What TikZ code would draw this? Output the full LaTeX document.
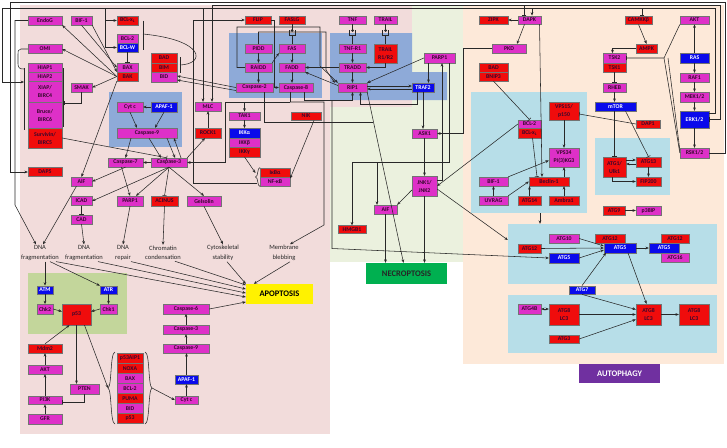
\documentclass[tikz,border=0pt]{standalone}
\usepackage{fontspec}
\setmainfont{Carlito}
\usetikzlibrary{arrows.meta}
\definecolor{bgpink}{RGB}{242,220,219}
\definecolor{bggreen}{RGB}{235,241,222}
\definecolor{bgpeach}{RGB}{253,233,217}
\definecolor{steel}{RGB}{142,170,216}
\definecolor{lblue}{RGB}{183,222,232}
\definecolor{dnagreen}{RGB}{195,214,155}
\definecolor{mag}{RGB}{222,48,200}
\definecolor{rdc}{RGB}{240,12,12}
\definecolor{blc}{RGB}{10,10,235}
\definecolor{txt}{RGB}{55,8,45}
\definecolor{lin}{RGB}{40,40,40}
\definecolor{necg}{RGB}{0,176,80}
\definecolor{autp}{RGB}{112,48,160}
\tikzset{
  nd/.style={draw=black!55, line width=0.3pt, inner sep=0pt, font=\fontsize{5.8}{8}\selectfont\bfseries, text=txt, align=center},
  wh/.style 2 args={minimum width=#1pt, minimum height=#2pt},
  mgn/.style={nd, fill=mag},
  rdn/.style={nd, fill=rdc},
  bln/.style={nd, fill=blc, text=white},
  ar/.style={draw=lin, line width=0.55pt, -{Stealth[length=3.4pt,width=2.8pt]}},
  arr/.style={draw=lin, line width=0.55pt, {Stealth[length=3.4pt,width=2.8pt]}-{Stealth[length=3.4pt,width=2.8pt]}},
  tb/.style={draw=lin, line width=0.55pt, -{Bar[width=4.5pt]}},
  ln/.style={draw=lin, line width=0.55pt},
  lbl/.style={font=\fontsize{6.5}{9.5}\selectfont, text=black!85, align=center, inner sep=1pt},
  bg/.style={inner sep=0pt, draw=none},
  proc/.style={inner sep=0pt, font=\fontsize{8.5}{8.5}\selectfont\bfseries},
}
\begin{document}
\begin{tikzpicture}[x=1pt,y=-1pt]
\useasboundingbox (0,0) rectangle (727,447);
\fill[white] (0,0) rectangle (727,447);
% ---------- regions
\fill[bggreen] (330,5) rectangle (463,262);
\fill[bgpink] (20,5) rectangle (330,434);
\fill[bgpink] (330,5) rectangle (412,107);
\fill[bgpeach] (463,5) rectangle (724,364);
\fill[steel] (109,92) rectangle (182,147);
\fill[steel] (229,33) rectangle (322,98);
\fill[steel] (330,33) -- (412,33) -- (412,72) -- (447,72) -- (447,100) -- (330,100) -- cycle;
\fill[dnagreen] (28,273) rectangle (127,334);
\node[bg, fill=lblue, wh={116}{121}] (boxA) at (529,152.5) {};
\fill[lblue] (595,138) rectangle (670,195);
\node[bg, fill=lblue, wh={209}{60}] (boxC) at (612.5,254) {};
\fill[lblue] (508,295) rectangle (717,353);
% ---------- process labels
\node[proc, fill=yellow, wh={67}{20}] (apop) at (279.5,294) {APOPTOSIS};
\node[proc, fill=necg, text=black!85, wh={81}{21}] (necro) at (406.5,273.5) {NECROPTOSIS};
\node[proc, fill=autp, text=white, wh={81}{19}] (autoph) at (619.5,373.5) {AUTOPHAGY};
% ---------- apoptosis nodes
\node[mgn, wh={34}{9}] (endog) at (45,20.5) {EndoG};
\node[mgn, wh={21}{9}] (bif1a) at (81.5,20.5) {BIF-1};
\node[rdn, wh={21}{9}] (bclxl) at (127.5,20.5) {BCL-x\textsubscript{L}};
\node[mgn, wh={21}{9}] (bcl2a) at (127.5,38.5) {BCL-2};
\node[bln, wh={21}{9}] (bclw) at (127.5,47.5) {BCL-W};
\node[mgn, wh={21}{9}] (baxa) at (127.5,67.5) {BAX};
\node[rdn, wh={21}{9}] (bak) at (127.5,76.5) {BAK};
\node[rdn, wh={26}{9.5}] (bad) at (164,58) {BAD};
\node[rdn, wh={26}{9.5}] (bim) at (164,67.5) {BIM};
\node[mgn, wh={26}{9.5}] (bid) at (164,77) {BID};
\node[mgn, wh={34}{9}] (omi) at (45,49) {OMI};
\node[mgn, wh={34}{9}] (hiap1) at (45,67.5) {HIAP1};
\node[mgn, wh={34}{9}] (hiap2) at (45,76.5) {HIAP2};
\node[mgn, wh={34}{21}] (xiap) at (45,91.5) {XIAP/\\BIRC4};
\node[mgn, wh={34}{26}] (bruce) at (45,115) {Bruce/\\BIRC6};
\node[rdn, wh={34}{20}] (surv) at (45,138) {Survivin/\\BIRC5};
\node[mgn, wh={21}{9}] (smak) at (81.5,87.5) {SMAK};
\node[mgn, wh={26}{10}] (cytc) at (130,107) {Cyt c};
\node[bln, wh={26}{10}] (apaf) at (164,107) {APAF-1};
\node[mgn, wh={60}{10}] (casp9) at (147,133) {Caspase-9};
\node[mgn, wh={35}{9}] (casp7) at (125.5,162.5) {Caspase-7};
\node[mgn, wh={36}{9}] (casp3) at (169,162.5) {Caspase-3};
\node[rdn, wh={34}{9}] (dap5) at (45,172) {DAP5};
\node[mgn, wh={21}{9}] (aifa) at (81.5,181.5) {AIF};
\node[mgn, wh={21}{9}] (icad) at (81.5,201) {ICAD};
\node[mgn, wh={21}{9}] (cad) at (81.5,219.5) {CAD};
\node[mgn, wh={26}{10}] (parp1a) at (130,201) {PARP1};
\node[rdn, wh={27}{10}] (acinus) at (164.5,201) {ACINUS};
\node[mgn, wh={34}{10}] (gelsolin) at (204,201) {Gelsolin};
\node[mgn, wh={26}{9}] (mlc) at (208,106.5) {MLC};
\node[rdn, wh={26}{10}] (rock1) at (208,133) {ROCK1};
\node[mgn, wh={31}{8.5}] (tak1) at (244.5,116) {TAK1};
\node[bln, wh={31}{9.5}] (ikka) at (244.5,133) {IKKα};
\node[mgn, wh={31}{9.5}] (ikkb) at (244.5,142.5) {IKKβ};
\node[rdn, wh={31}{9.5}] (ikkg) at (244.5,152) {IKKγ};
\node[rdn, wh={30}{8.5}] (nik) at (306,116) {NIK};
\node[rdn, wh={30}{9}] (ikba) at (275,172.5) {IκBα};
\node[mgn, wh={30}{9}] (nfkb) at (275,181.5) {NF-κB};
\node[rdn, wh={26}{8.5}] (flip) at (258,20) {FLIP};
\node[rdn, wh={26}{8.5}] (faslg) at (292,20) {FASLG};
\node[mgn, wh={27}{9}] (pidd) at (258.5,48.5) {PIDD};
\node[mgn, wh={26}{9}] (fas) at (292,48.5) {FAS};
\node[mgn, wh={27}{9}] (raidd) at (258.5,67.5) {RAIDD};
\node[mgn, wh={26}{9}] (fadd) at (292,67.5) {FADD};
\node[mgn, wh={37}{9}] (casp2) at (254.5,87.5) {Caspase-2};
\node[mgn, wh={34}{9}] (casp8) at (296,87.5) {Caspase-8};
\node[mgn, wh={27}{8.5}] (tnf) at (352.5,20) {TNF};
\node[mgn, wh={23}{8.5}] (trail) at (385.5,20) {TRAIL};
\node[mgn, wh={27}{9}] (tnfr1) at (352.5,48.5) {TNF-R1};
\node[rdn, wh={23}{19}] (trailr) at (385.5,53.5) {TRAIL\\R1/R2};
\node[mgn, wh={27}{9}] (tradd) at (352.5,67.5) {TRADD};
\node[mgn, wh={29}{9}] (rip1) at (352.5,87.5) {RIP1};
\node[bln, wh={22}{9}] (traf2) at (423,87.5) {TRAF2};
% lower apoptosis
\node[lbl] (dnaf1) at (40,253) {DNA\\fragmentation};
\node[lbl] (dnaf2) at (84,253) {DNA\\fragmentation};
\node[lbl] (dnar) at (123,253) {DNA\\repair};
\node[lbl] (chrom) at (163,253) {Chromatin\\condensation};
\node[lbl] (cytos) at (223,253) {Cytoskeletal\\stability};
\node[lbl] (membr) at (284,253) {Membrane\\blebbing};
\node[bln, wh={16}{8.5}] (atm) at (45,290) {ATM};
\node[bln, wh={17}{8.5}] (atr) at (108.5,290) {ATR};
\node[mgn, wh={16}{9.5}] (chk2) at (45,309) {Chk2};
\node[mgn, wh={17}{9.5}] (chk1) at (108.5,309) {Chk1};
\node[rdn, wh={29}{21}] (p53) at (76.5,314.5) {p53};
\node[rdn, wh={34}{9}] (mdm2) at (45,348.5) {Mdm2};
\node[mgn, wh={34}{9}] (akt) at (45,369.5) {AKT};
\node[mgn, wh={29}{10}] (pten) at (84.5,389) {PTEN};
\node[mgn, wh={34}{8.5}] (pi3k) at (45,400) {PI3K};
\node[mgn, wh={34}{9.5}] (gfr) at (45,419) {GFR};
\node[rdn, wh={25.5}{10}] (s1) at (130,358.5) {p53AIP1};
\node[rdn, wh={25.5}{10}] (s2) at (130,368.5) {NOXA};
\node[mgn, wh={25.5}{10}] (s3) at (130,378.5) {BAX};
\node[mgn, wh={25.5}{10}] (s4) at (130,388.5) {BCL-2};
\node[rdn, wh={25.5}{10}] (s5) at (130,398.5) {PUMA};
\node[mgn, wh={25.5}{10}] (s6) at (130,408.5) {BID};
\node[rdn, wh={25.5}{10}] (s7) at (130,418.5) {p53};
\node[mgn, wh={46}{9.5}] (casp6) at (186,309) {Caspase-6};
\node[mgn, wh={46}{9}] (casp3b) at (186,329.5) {Caspase-3};
\node[mgn, wh={46}{9}] (casp9b) at (186,348.5) {Caspase-9};
\node[bln, wh={23}{9}] (apafb) at (186.5,379.5) {APAF-1};
\node[mgn, wh={23}{8.5}] (cytcb) at (186.5,400) {Cyt c};
% ---------- necroptosis nodes
\node[mgn, wh={31}{10}] (parp1b) at (439.5,58) {PARP1};
\node[mgn, wh={25}{9}] (ask1) at (424.5,133.5) {ASK1};
\node[mgn, wh={25}{20}] (jnk) at (424.5,186) {JNK1/\\JNK2};
\node[mgn, wh={23}{9}] (aifb) at (385.5,209.5) {AIF};
\node[rdn, wh={28}{8}] (hmgb1) at (352,229.5) {HMGB1};
% ---------- autophagy nodes
\node[rdn, wh={29}{8.5}] (zipk) at (493.5,20) {ZIPK};
\node[mgn, wh={23}{8.5}] (dapk) at (529.5,20) {DAPK};
\node[mgn, wh={34}{9}] (pkd) at (509,48.5) {PKD};
\node[rdn, wh={29}{9}] (bad2) at (493.5,67.5) {BAD};
\node[rdn, wh={29}{9}] (bnip3) at (493.5,76.5) {BNIP3};
\node[mgn, wh={23}{8.5}] (bcl2b) at (529.5,124) {BCL-2};
\node[rdn, wh={23}{9.5}] (bclxl2) at (529.5,133) {BCL-x\textsubscript{L}};
\node[mgn, wh={29}{9}] (bif1b) at (493.5,181.5) {BIF-1};
\node[mgn, wh={29}{9}] (uvrag) at (493.5,200.5) {UVRAG};
\node[rdn, wh={23}{9}] (atg14) at (529.5,200.5) {ATG14};
\node[rdn, wh={40}{9}] (beclin) at (549,181.5) {Beclin-1};
\node[rdn, wh={30}{9}] (ambra) at (564,200.5) {Ambra1};
\node[rdn, wh={30}{18}] (vps15) at (564,111) {VPS15/\\p150};
\node[mgn, wh={30}{19}] (vps34) at (564,157.5) {VPS34\\PI(3)KG3};
\node[rdn, wh={27}{8.5}] (camkk) at (638.5,20) {CAMKKβ};
\node[mgn, wh={29}{8.5}] (akt2) at (694.5,20) {AKT};
\node[rdn, wh={21}{9}] (ampk) at (646.5,48.5) {AMPK};
\node[mgn, wh={23}{9.5}] (tsk2) at (614.5,58) {TSK2};
\node[rdn, wh={23}{9.5}] (tsk1) at (614.5,67.5) {TSK1};
\node[mgn, wh={23}{9}] (rheb) at (614.5,87.5) {RHEB};
\node[bln, wh={41}{9}] (mtor) at (615.5,106.5) {mTOR};
\node[rdn, wh={24}{8.5}] (dap1) at (648,124) {DAP1};
\node[bln, wh={29}{9.5}] (ras) at (694.5,58) {RAS};
\node[mgn, wh={29}{9}] (raf1) at (694.5,77.5) {RAF1};
\node[mgn, wh={29}{10}] (mek) at (694.5,97) {MEK1/2};
\node[bln, wh={29}{17}] (erk) at (694.5,119.5) {ERK1/2};
\node[mgn, wh={29}{10}] (rsk) at (694.5,153) {RSK1/2};
\node[rdn, wh={23}{20}] (atg1) at (614.5,167) {ATG1/\\Ulk1};
\node[rdn, wh={25}{10}] (atg13) at (648.5,162) {ATG13};
\node[rdn, wh={25}{9}] (fip200) at (648.5,181.5) {FIP200};
\node[rdn, wh={22}{9}] (atg9) at (614,210.5) {ATG9};
\node[mgn, wh={25}{9}] (p38ip) at (648.5,210.5) {p38IP};
\node[mgn, wh={30}{9}] (atg10) at (564,238.5) {ATG10};
\node[rdn, wh={30}{9}] (atg12c) at (610,238.5) {ATG12};
\node[bln, wh={32}{9.5}] (atg5c) at (620,248) {ATG5};
\node[rdn, wh={28}{9}] (atg12r) at (675,238.5) {ATG12};
\node[bln, wh={30}{9.5}] (atg5r) at (664,248) {ATG5};
\node[mgn, wh={28}{9.5}] (atg16) at (675,257.5) {ATG16};
\node[bln, wh={30}{9.5}] (atg5l) at (564,258) {ATG5};
\node[rdn, wh={23}{9}] (atg12l) at (529.5,248.5) {ATG12};
\node[bln, wh={26}{8.5}] (atg7) at (582,290) {ATG7};
\node[mgn, wh={23}{9.5}] (atg4b) at (529.5,309) {ATG4B};
\node[rdn, wh={30}{21}] (lc3l) at (564,314.5) {ATG8\\LC3};
\node[rdn, wh={25}{21}] (lc3m) at (648.5,314.5) {ATG8\\LC3};
\node[rdn, wh={30}{21}] (lc3r) at (694,314.5) {ATG8\\LC3};
\node[rdn, wh={30}{8.5}] (atg3) at (564,339) {ATG3};
% ---------- junction coordinates
\coordinate (iapL) at (24,82);
\coordinate (iapR) at (64,103);
\coordinate (nfbr) at (255.5,173);
\coordinate (nfbr2) at (257,183);
\coordinate (j8) at (290,102);
\coordinate (stL) at (108,388);
\coordinate (stR) at (152,388);
% ---------- top wires
\draw[ar] (rsk.east) -- (725,153) -- (725,2) -- (10,2) -- (10,172) -- (dap5.west);
\draw[ln, {Bar[width=4.5pt]}-{Stealth[length=3.4pt,width=2.8pt]}] (erk.east) -- (720,119.5) -- (720,5) -- (212,5) -- ([xshift=4pt]mlc.north);
\draw[ar] ([yshift=6pt]erk.east) -- (715,113.5) -- (715,8) -- (2,8) -- (2,82) -- (iapL);
\draw[ar] (105,8) -- (105,20.5) -- (bclxl.west);
\draw[ar] (105,20.5) -- (105,47.5) -- (bclw.west);
\draw[ar] (203,8) -- ([xshift=-5pt]mlc.north);
\draw[ar] (532,8) -- ([xshift=2.5pt]dapk.north);
\draw[tb] (524,5) -- ([xshift=-5.5pt]dapk.north);
\draw[tb] (642,8) -- ([xshift=3.5pt]camkk.north);
% ---------- apoptosis upper edges
\draw[ar] (bak.west) -- (endog.south east);
\draw[ar] (bak.west) -- (omi.east);
\draw[ar] (bak.west) -- (smak.east);
\draw[ar] (bak.south west) -- (aifa.north);
\draw[ar] (bif1a.south) -- (baxa.west);
\draw[ar] (bif1a.south east) -- (bak.north west);
\draw[tb] (bclw.south) -- (baxa.north);
\draw[ln] (143,20.5) -- (143,50);
\draw[ln] (143,34) .. controls (205,40) and (206,64) .. (180,65);
\draw[ln] (180,57) -- (180,73);
\draw[ar] (casp2.west) -- ([yshift=1pt]bid.east);
\draw[ar] ([yshift=-3pt]casp2.west) -- ([yshift=-3pt]bid.east);
\draw[ln] (24,68) -- (24,130);
\draw[ln] (63.5,68) -- (63.5,127);
\draw[ln] (omi.west) -- (21,49) .. controls (18,49) and (18,51) .. (18,55) -- (18,64) .. controls (18,68) and (20,69) .. (24,69);
\draw[tb] (smak.south) -- (81.5,103) -- (iapR);
\draw[tb] (surv.east) -- ([xshift=-2pt]casp3.north);
\draw[ar] (cytc.south) -- ([xshift=-10pt]casp9.north);
\draw[ar] (apaf.south) -- ([xshift=8pt]casp9.north);
\draw[ar] (apaf.west) -- (cytc.east);
\draw[ar] ([xshift=-16pt]casp9.south) -- (casp7.north);
\draw[ar] ([xshift=2pt]casp9.south) -- ([xshift=-8pt]casp3.north);
\draw[ar] ([xshift=20pt]casp9.south) -- ([xshift=6pt]casp3.north);
\draw[ar] ([xshift=12pt]casp3.north) -- ([xshift=27pt]casp9.south);
\draw[ar] (casp3.west) -- (casp7.east);
\draw[ar] (casp7.south) -- (aifa.east);
\draw[ar] ([xshift=-4pt]casp7.south) -- (parp1a.north);
\draw[ar] (casp3.south) -- (icad.east);
\draw[ar] (casp3.south) -- ([xshift=6pt]parp1a.north);
\draw[tb] (casp3.south) -- (acinus.north);
\draw[ar] (casp3.south) -- (gelsolin.north);
\draw[tb] (icad.south) -- (cad.north);
\draw[ar] (cad.south) -- (dnaf2.north);
\draw[ar] ([xshift=-5pt]aifa.south) -- ([xshift=3pt]dnaf1.north);
\draw[ar] (endog.west) -- (15,20.5) -- (15,205) -- ([xshift=-4pt]dnaf1.north);
\draw[ar] (parp1a.south) -- (dnar.north);
\draw[ar] (acinus.south) -- (chrom.north);
\draw[ar] (gelsolin.south) -- (cytos.north);
\draw[ar] (casp3.north east) -- ([xshift=-3pt]rock1.south);
\draw[ar] (rock1.north) -- (mlc.south);
\draw[ar] (tak1.south) -- (ikka.north);
\draw[ar] (ikkg.south) -- (nfbr);
\draw[ar] ([xshift=8pt]nik.south) -- ([yshift=3pt]nfkb.east);
\draw[ln] (260,167.5) .. controls (257,167.5) and (258.5,177) .. (255.5,177) .. controls (258.5,177) and (257,186.5) .. (260,186.5);
\draw[ar] (nfbr2) -- (193,183) -- (193,20) -- (flip.west);
% caspase-8 / caspase-2 wiring
\draw[ln] ([xshift=-6pt]casp8.south) -- (j8);
\draw[ar] (j8) -- (225,102) -- (225,162.5) -- (casp3.east);
\draw[ar] (244.5,102) -- (tak1.north);
\draw[ar] (j8) -- (324,102) -- (324,225) -- ([xshift=6pt]membr.north);
\draw[ar] ([xshift=8pt]casp8.south) -- ++(0,8) -| (rip1.south);
\draw[ar] (332,100) -- (332,248.5) -- (atg5l.west);
\draw[ln] ([xshift=10pt]casp2.south) -- (264.5,122) -- (373,122);
% death receptors
\draw[ar] (flip.east) -- (274,20) -- (274,87.5) -- (casp8.west);
\draw[ln] (faslg.south) -- (292,30.5); \fill[lin] (292,30.5) circle (1.5pt);
\draw[ln] (289,30) -- (289,35) -- (295,35) -- (295,30); \draw[ln] (292,35) -- (fas.north);
\draw[ln] (tnf.south) -- (352.5,30.5); \fill[lin] (352.5,30.5) circle (1.5pt);
\draw[ln] (349.5,30) -- (349.5,35) -- (355.5,35) -- (355.5,30); \draw[ln] (352.5,35) -- (tnfr1.north);
\draw[ln] (trail.south) -- (385.5,30.5); \fill[lin] (385.5,30.5) circle (1.5pt);
\draw[ln] (382.5,30) -- (382.5,35) -- (388.5,35) -- (388.5,30); \draw[ln] (385.5,35) -- (trailr.north);
\draw[ar] (pidd.south) -- (raidd.north);
\draw[ar] (raidd.south) -- (raidd.south |- casp2.north);
\draw[ar] (raidd.north east) -- (fas.south west);
\draw[ar] (fas.south) -- (fadd.north);
\draw[ar] (fadd.south) -- (fadd.south |- casp8.north);
\draw[ar] (pidd.north) -- (258.5,32) -- (326,32) -- (326,70) -- ([xshift=-3pt]rip1.north west);
\draw[ar] (raidd.west) -- (237,67.5) -- (237,27) -- (320,27) -- (320,66) -- (rip1.north west);
\draw[ar] (tnfr1.south) -- (tradd.north);
\draw[ar] (tradd.south) -- (rip1.north);
\draw[ar] (tradd.west) -- (fadd.east);
\draw[ar] ([yshift=2pt]rip1.west) -- (fadd.south east);
\draw[ar] (trailr.south) -- (385.5,67.5) -- (tradd.east);
% ---------- necroptosis edges
\draw[ar] (parp1b.west) -- (rip1.north east);
\draw[ar] ([yshift=1.5pt]rip1.east) -- ([yshift=1.5pt]traf2.west);
\draw[ar] ([yshift=-1.5pt]traf2.west) -- ([yshift=-1.5pt]rip1.east);
\draw[ar] ([xshift=-11pt]parp1b.south) -- ([xshift=5.5pt]traf2.north);
\draw[ar] (traf2.south) -- (traf2.south |- ask1.north);
\draw[ar] ([xshift=-6pt]traf2.south) -- ++(0,12) -| ([xshift=8pt]rip1.south);
\draw[ar] (pkd.west) -- (463,48.5) -- (463,133.5) -- (ask1.east);
\draw[ar] (ask1.south) -- (jnk.north);
\draw[ar] ([yshift=6pt]jnk.east) -- (442,180) -- ([xshift=2.5pt]parp1b.south);
\draw[ar] ([xshift=10pt]parp1b.south) -- (449.5,162) -- (352,162) -- (hmgb1.north);
\draw[ar] (377,162) -- ([xshift=-8.5pt]aifb.north);
\draw[ar] ([yshift=-4pt]jnk.west) -- (aifb.north east);
\draw[ar] (aifb.south) -- (aifb.south |- necro.north);
\draw[ar] (jnk.south) -- (jnk.south |- necro.north);
\draw[ar] (rip1.south east) -- ([xshift=-3pt]necro.north);
\draw[ar] (bcl2b.west) -- (jnk.east);
\draw[ar] ([yshift=-3pt]jnk.east) -- ([yshift=14pt]boxC.west);
% ---------- autophagy edges
\draw[ar] (dapk.west) -- (zipk.east);
\draw[ar] ([xshift=-5pt]dapk.south) -- ([xshift=8pt]pkd.north);
\draw[ar] ([xshift=10pt]dapk.south) -- ([xshift=-7pt]beclin.north);
\draw[tb] (bnip3.south) -- (bcl2b.north);
\draw[tb] ([xshift=3pt]bclxl2.south) -- ([xshift=-12pt]beclin.north);
\draw[ar] (bif1b.north east) -- ([yshift=-3pt]vps34.west);
\draw[ar] (uvrag.north) -- (bif1b.south);
\draw[ar] (uvrag.north east) -- (beclin.west);
\draw[ar] (atg14.north) -- (atg14.north |- beclin.south);
\draw[ar] (ambra.north) -- (ambra.north |- beclin.south);
\draw[ar] (vps34.south |- beclin.north) -- (vps34.south);
\draw[ar] (vps15.south) -- (vps34.north);
\draw[tb] (dap1.west) -- ([yshift=-3pt]vps15.east);
\draw[ar] ([xshift=11pt]boxA.south) -- ([xshift=-72.5pt]boxC.north);
\draw[ar] (camkk.south) -- (ampk.north);
\draw[ar] (ampk.west) -| ([xshift=-2pt]tsk2.north);
\draw[tb] (tsk1.south) -- (rheb.north);
\draw[ar] (rheb.south) -- (rheb.south |- mtor.north);
\draw[tb] (mtor.south -| atg1.north) -- (atg1.north);
\draw[tb] ([xshift=10pt]mtor.south) -- (atg13.north);
\draw[ar] ([yshift=7pt]atg1.east) -- ([yshift=2pt]atg13.west);
\draw[ar] ([yshift=-2pt]atg13.west) -- ([yshift=3pt]atg1.east);
\draw[ar] ([xshift=-2pt]atg1.south) |- (fip200.west);
\draw[ar] (atg13.south) -- (fip200.north);
\draw[ar] (atg9.east) -- (p38ip.west);
\draw[tb] (akt2.south west) -- (664,58) -- (tsk2.east);
\draw[ln] (rsk.west) -- (664,58);
\draw[ln] ([yshift=3pt]rsk.west) -- (668,58);
\draw[ar] (ras.north) -- (akt2.south);
\draw[ar] (ras.south) -- (raf1.north);
\draw[ar] (raf1.south) -- (mek.north);
\draw[ar] (mek.south) -- (erk.north);
\draw[ar] (erk.south) -- (rsk.north);
\draw[ar] (atg10.east) -- ([yshift=2pt]atg5c.west);
\draw[ar] (atg12l.east) -- (atg5c.west);
\draw[ar] (atg5l.east) -- ([yshift=-2pt]atg5c.west);
\draw[ar] (atg5c.east) -- (atg5r.west);
\draw[ar] (atg7.north) -- ([xshift=-14pt]atg5c.south);
\draw[ar] (atg7.south) -- ([yshift=5pt]lc3m.west);
\draw[ar] ([xshift=8pt]atg5c.south) -- ([xshift=-2pt]lc3m.north);
\draw[arr] (atg4b.east) -- ([yshift=5.5pt]lc3l.west);
\draw[ar] (lc3l.east) -- (lc3m.west);
\draw[ar] (atg3.east) -- ([yshift=-5pt]lc3m.west);
\draw[ar] (lc3m.east) -- (lc3r.west);
% ---------- lower apoptosis edges
\draw[ar] (atm.north |- dnaf1.south) -- (atm.north);
\draw[ar] ([xshift=10pt]dnaf1.south) -- (atr.north west);
\draw[ar] (atm.south) -- (chk2.north);
\draw[ar] (atr.south) -- (chk1.north);
\draw[ar] (chk2.east) -- ([yshift=3pt]p53.west);
\draw[ar] (chk1.west) -- ([yshift=3pt]p53.east);
\draw[ar] (mdm2.north) -- ([xshift=-7pt]p53.south);
\draw[ar] (akt.north) -- (mdm2.south);
\draw[ar] (pi3k.north) -- (akt.south);
\draw[ar] (gfr.north) -- (pi3k.south);
\draw[tb] (pten.south) |- ([yshift=-2pt]pi3k.east);
\draw[ar] (p53.south) -- (p53.south |- pten.north);
\draw[ar] ([xshift=8pt]p53.south) -- (stL);
\draw[ln] (115,352) .. controls (110,353) and (112,386) .. (108,388) .. controls (112,390) and (110,423) .. (115,424);
\draw[ln] (145,352) .. controls (150,353) and (148,386) .. (152,388) .. controls (148,390) and (150,423) .. (145,424);
\draw[ar] (stR) -- (cytcb.west);
\draw[ar] (cytcb.north) -- (apafb.south);
\draw[ar] (apafb.north) -- (apafb.north |- casp9b.south);
\draw[ar] (casp9b.north) -- (casp3b.south);
\draw[ar] (casp3b.north) -- (casp6.south);
\draw[ar] (casp6.east) -- ([yshift=-8pt]apop.west);
\draw[ar] ([xshift=12pt]chrom.south) -- ([yshift=9pt]apop.west);
\draw[ar] ([xshift=8pt]dnar.south) -- ([yshift=5pt]apop.west);
\draw[ar] ([xshift=14pt]dnaf2.south) -- ([yshift=1pt]apop.west);
\draw[ar] ([xshift=16pt]dnaf1.south) -- ([yshift=-3pt]apop.west);
\draw[ar] ([xshift=4pt]cytos.south) -- (apop.north west);
\draw[ar] ([xshift=6pt]membr.south) -- ([xshift=8pt]apop.north west);
\end{tikzpicture}
\end{document}
